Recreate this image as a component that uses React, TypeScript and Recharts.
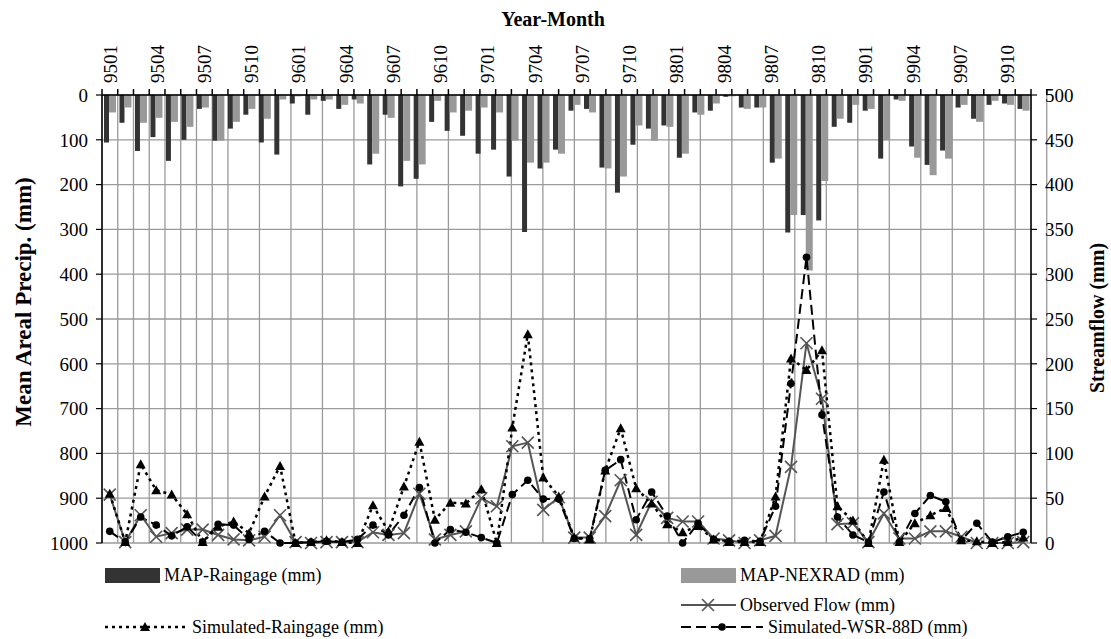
import React from 'react';
import { ComposedChart, Bar, Line, XAxis, YAxis, CartesianGrid } from 'recharts';

const months = [
  '9501', '9502', '9503', '9504', '9505', '9506', '9507', '9508', '9509', '9510', '9511', '9512',
  '9601', '9602', '9603', '9604', '9605', '9606', '9607', '9608', '9609', '9610', '9611', '9612',
  '9701', '9702', '9703', '9704', '9705', '9706', '9707', '9708', '9709', '9710', '9711', '9712',
  '9801', '9802', '9803', '9804', '9805', '9806', '9807', '9808', '9809', '9810', '9811', '9812',
  '9901', '9902', '9903', '9904', '9905', '9906', '9907', '9908', '9909', '9910', '9911', '9912',
];

// monthly mean areal precipitation (mm), left axis (reversed)
const mapRaingage = [
  106, 62, 125, 94, 147, 100, 31, 102, 75, 44, 106, 133,
  19, 44, 13, 31, 10, 155, 44, 204, 187, 60, 80, 91,
  131, 122, 182, 306, 164, 122, 35, 31, 162, 218, 111, 75,
  68, 140, 39, 35, 4, 28, 28, 151, 307, 268, 280, 71,
  62, 35, 142, 10, 115, 156, 124, 28, 53, 22, 19, 31,
];
const mapNexrad = [
  39, 28, 62, 51, 60, 71, 28, 102, 60, 31, 53, 10,
  3, 10, 10, 22, 19, 131, 51, 147, 155, 13, 39, 35,
  28, 39, 102, 151, 151, 131, 22, 39, 164, 182, 68, 102,
  71, 131, 44, 19, 3, 31, 28, 142, 268, 392, 192, 53,
  22, 31, 101, 13, 140, 179, 142, 22, 60, 13, 22, 35,
];

// streamflow (mm), right axis
const observedFlow = [
  54, 1, 31, 7, 11, 15, 15, 9, 4, 3, 7, 31,
  1, 0, 1, 1, 1, 12, 9, 11, 55, 4, 9, 13,
  50, 41, 108, 112, 37, 51, 6, 6, 30, 70, 9, 46,
  28, 24, 24, 5, 3, 0, 3, 8, 85, 223, 161, 21,
  22, 1, 33, 5, 5, 13, 13, 7, 0, 0, 0, 1,
];
const simRaingage = [
  55, 1, 88, 59, 54, 32, 1, 18, 24, 11, 52, 86,
  0, 1, 3, 1, 0, 42, 13, 63, 113, 26, 45, 44,
  60, 0, 129, 233, 73, 52, 6, 4, 81, 128, 61, 44,
  21, 12, 19, 4, 1, 1, 1, 52, 206, 193, 215, 41,
  25, 0, 93, 1, 22, 31, 39, 3, 2, 0, 1, 6,
];
const simWsr = [
  13, 1, 29, 20, 8, 18, 1, 21, 20, 4, 13, 0,
  0, 1, 2, 1, 4, 20, 9, 31, 62, 0, 15, 12,
  6, 0, 54, 70, 49, 49, 5, 5, 81, 93, 26, 57,
  30, 0, 22, 4, 2, 3, 2, 41, 178, 319, 143, 29,
  9, 1, 57, 1, 33, 53, 46, 3, 22, 1, 7, 12,
];

const precipTicks = [0, 100, 200, 300, 400, 500, 600, 700, 800, 900, 1000];
const flowTicks = [0, 50, 100, 150, 200, 250, 300, 350, 400, 450, 500];

const data = months.map((ym, i) => ({
  ym,
  raingage: mapRaingage[i],
  nexrad: mapNexrad[i],
  observed: observedFlow[i],
  simRain: simRaingage[i],
  simWsr: simWsr[i],
}));

// month boundaries (gridlines / tick marks) and every third month centre (labels)
const boundaryTicks = months.map((_, i) => i).concat(months.length);
const labelTicks = months.map((_, i) => i + 0.5).filter((_, i) => i % 3 === 0);
const topTicks = [...boundaryTicks, ...labelTicks].sort((a, b) => a - b);

const FONT = '"Liberation Serif", "Times New Roman", serif';
const TICK_SIZE = 6;
const TICK_MARGIN = 6;

const TopTick = (props: any) => {
  const { x, y, payload } = props;
  const v = payload.value;
  if (Number.isInteger(v)) {
    return (
      <line x1={x} x2={x} y1={y + TICK_MARGIN} y2={y + TICK_MARGIN + TICK_SIZE} stroke="#000" strokeWidth={1.5} />
    );
  }
  return (
    <text
      x={x}
      y={y}
      transform={`rotate(-90 ${x} ${y})`}
      textAnchor="start"
      dy="0.35em"
      fontSize={19}
      fontFamily={FONT}
      fill="#000"
    >
      {months[Math.floor(v)]}
    </text>
  );
};

const TriDot = (props: any) => {
  const { cx, cy, index } = props;
  if (cx == null || cy == null) return <g key={`t${index}`} />;
  return <path key={`t${index}`} d={`M${cx},${cy - 5} L${cx + 5},${cy + 4} L${cx - 5},${cy + 4} Z`} fill="#000" />;
};

const RoundDot = (props: any) => {
  const { cx, cy, index } = props;
  if (cx == null || cy == null) return <g key={`c${index}`} />;
  return <circle key={`c${index}`} cx={cx} cy={cy} r={3.8} fill="#000" />;
};

const CrossDot = (props: any) => {
  const { cx, cy, index } = props;
  if (cx == null || cy == null) return <g key={`x${index}`} />;
  const s = 6;
  return (
    <path
      key={`x${index}`}
      d={`M${cx - s},${cy - s} L${cx + s},${cy + s} M${cx - s},${cy + s} L${cx + s},${cy - s}`}
      stroke="#555"
      strokeWidth={1.6}
      fill="none"
    />
  );
};

const legendText: React.CSSProperties = {
  position: 'absolute',
  fontFamily: FONT,
  fontSize: 18,
  color: '#000',
  whiteSpace: 'nowrap',
  lineHeight: '20px',
};

const tickStyle = { fontSize: 19, fill: '#000', fontFamily: FONT };

export default function App() {
  return (
    <div style={{ position: 'absolute', left: 0, top: 0, width: 1111, height: 639, background: '#fff' }}>
      <ComposedChart
        width={1111}
        height={639}
        data={data}
        margin={{ top: 35, right: 20, bottom: 96, left: 42 }}
        barGap={0}
        barCategoryGap={0}
      >
        <XAxis xAxisId="cat" dataKey="ym" hide />
        <XAxis xAxisId="grid" type="number" domain={[0, 60]} ticks={boundaryTicks} hide />
        <XAxis
          xAxisId="top"
          type="number"
          orientation="top"
          domain={[0, 60]}
          ticks={topTicks}
          interval={0}
          height={60}
          tickSize={TICK_SIZE}
          tickMargin={TICK_MARGIN}
          tickLine={false}
          tick={<TopTick />}
          axisLine={{ stroke: '#000', strokeWidth: 1.5 }}
        />
        <YAxis
          yAxisId="precip"
          orientation="left"
          reversed
          domain={[0, 1000]}
          ticks={precipTicks}
          interval={0}
          width={60}
          tickSize={6}
          tickMargin={8}
          tick={tickStyle}
          axisLine={{ stroke: '#000', strokeWidth: 1.5 }}
          tickLine={{ stroke: '#000', strokeWidth: 1.2 }}
        />
        <YAxis
          yAxisId="flow"
          orientation="right"
          domain={[0, 500]}
          ticks={flowTicks}
          interval={0}
          width={60}
          tickSize={6}
          tickMargin={8}
          tick={tickStyle}
          axisLine={{ stroke: '#000', strokeWidth: 1.5 }}
          tickLine={{ stroke: '#000', strokeWidth: 1.2 }}
        />
        <CartesianGrid xAxisId="grid" yAxisId="precip" stroke="#9a9a9a" strokeWidth={1.3} />
        <Bar xAxisId="cat" yAxisId="precip" dataKey="raingage" fill="#333333" barSize={5} isAnimationActive={false} />
        <Bar xAxisId="cat" yAxisId="precip" dataKey="nexrad" fill="#999999" barSize={7} isAnimationActive={false} />
        <Line
          xAxisId="cat"
          yAxisId="flow"
          dataKey="observed"
          stroke="#555555"
          strokeWidth={2}
          dot={CrossDot}
          activeDot={false}
          isAnimationActive={false}
        />
        <Line
          xAxisId="cat"
          yAxisId="flow"
          dataKey="simRain"
          stroke="#000"
          strokeWidth={2.5}
          strokeDasharray="3 4"
          dot={TriDot}
          activeDot={false}
          isAnimationActive={false}
        />
        <Line
          xAxisId="cat"
          yAxisId="flow"
          dataKey="simWsr"
          stroke="#000"
          strokeWidth={2}
          strokeDasharray="10 5"
          dot={RoundDot}
          activeDot={false}
          isAnimationActive={false}
        />
      </ComposedChart>

      <div style={{ position: 'absolute', left: 453, top: 8, width: 200, textAlign: 'center', fontFamily: FONT, fontSize: 20, fontWeight: 'bold' }}>
        Year-Month
      </div>
      <div
        style={{
          position: 'absolute', left: 24, top: 302, fontFamily: FONT, fontSize: 23, fontWeight: 'bold',
          whiteSpace: 'nowrap', transform: 'translate(-50%, -50%) rotate(-90deg)',
        }}
      >
        Mean Areal Precip. (mm)
      </div>
      <div
        style={{
          position: 'absolute', left: 1097, top: 318, fontFamily: FONT, fontSize: 20, fontWeight: 'bold',
          whiteSpace: 'nowrap', transform: 'translate(-50%, -50%) rotate(-90deg)',
        }}
      >
        Streamflow (mm)
      </div>

      {/* legend */}
      <svg style={{ position: 'absolute', left: 0, top: 555 }} width={1111} height={84}>
        <rect x={105} y={13} width={55} height={15} fill="#333333" />
        <rect x={681} y={13} width={55} height={15} fill="#999999" />
        <line x1={681} x2={736} y1={50} y2={50} stroke="#555" strokeWidth={2} />
        <path d="M702,44 L714,56 M702,56 L714,44" stroke="#555" strokeWidth={1.6} />
        <line x1={105} x2={185} y1={72} y2={72} stroke="#000" strokeWidth={2.5} strokeDasharray="3 4" />
        <path d="M145,67 L150,76 L140,76 Z" fill="#000" />
        <line x1={681} x2={763} y1={72} y2={72} stroke="#000" strokeWidth={2} strokeDasharray="10 5" />
        <circle cx={722} cy={72} r={3.8} fill="#000" />
      </svg>
      <div style={{ ...legendText, left: 164, top: 565 }}>MAP-Raingage (mm)</div>
      <div style={{ ...legendText, left: 740, top: 565 }}>MAP-NEXRAD (mm)</div>
      <div style={{ ...legendText, left: 740, top: 595 }}>Observed Flow (mm)</div>
      <div style={{ ...legendText, left: 192, top: 617 }}>Simulated-Raingage (mm)</div>
      <div style={{ ...legendText, left: 768, top: 617 }}>Simulated-WSR-88D (mm)</div>
    </div>
  );
}
